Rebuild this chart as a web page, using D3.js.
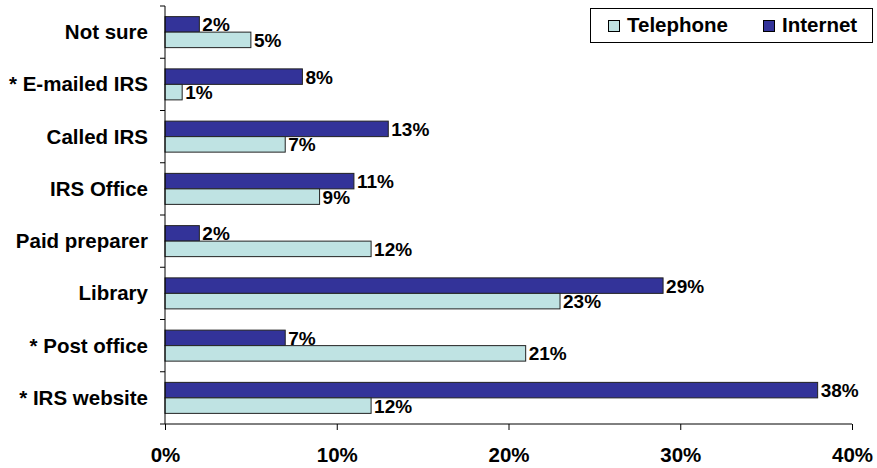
<!DOCTYPE html>
<html><head><meta charset="utf-8">
<script src="https://cdn.jsdelivr.net/npm/d3@7"></script>
<style>
body{margin:0;background:#fff;}
text{font-family:"Liberation Sans",Arial,sans-serif;font-weight:bold;}
</style></head>
<body><svg id="c" width="877" height="468"></svg>
<script>
const categories = ["Not sure","* E-mailed IRS","Called IRS","IRS Office","Paid preparer","Library","* Post office","* IRS website"];
const internet = [2,8,13,11,2,29,7,38];
const telephone = [5,1,7,9,12,23,21,12];
const xTicks = [0,10,20,30,40];
const seriesNames = ["Telephone","Internet"];
const colors = {Internet:"#333399", Telephone:"#BFE3E3"};

const svg = d3.select("#c");
const m = {l:165, r:852, t:6, b:424};
const x = d3.scaleLinear().domain([0,40]).range([m.l,m.r]);
const y = d3.scaleBand().domain(categories).range([m.t,m.b]);
const inner = d3.scaleBand().domain(["Internet","Telephone"]).range([0,31]);
const off = (y.bandwidth()-31)/2;

const g = svg.append("g");
categories.forEach((c,i)=>{
  [["Internet",internet[i]],["Telephone",telephone[i]]].forEach(([s,v])=>{
    const yy = y(c)+off+inner(s);
    g.append("rect").attr("x",x(0)).attr("y",yy).attr("width",x(v)-x(0)).attr("height",inner.bandwidth())
      .attr("fill",colors[s]).attr("stroke","#222").attr("stroke-width",1);
    g.append("text").attr("x",x(v)+3).attr("y",yy+inner.bandwidth()/2+7)
      .attr("font-size",19).attr("fill","#000").text(v+"%");
  });
});

// y axis
const ya = svg.append("g").attr("transform",`translate(${m.l},0)`);
ya.append("line").attr("x1",0).attr("x2",0).attr("y1",m.t).attr("y2",m.b).attr("stroke","#000");
d3.range(categories.length+1).forEach(i=>{
  const yy = m.t + i*y.step();
  ya.append("line").attr("x1",-5).attr("x2",0).attr("y1",yy).attr("y2",yy).attr("stroke","#000");
});
categories.forEach(c=>{
  ya.append("text").attr("x",-17).attr("y",y(c)+y.bandwidth()/2+7).attr("text-anchor","end")
    .attr("font-size",20.5).text(c);
});

// x axis
const xa = svg.append("g").attr("transform",`translate(0,${m.b})`)
  .call(d3.axisBottom(x).tickValues(xTicks).tickSize(6).tickFormat(d=>d+"%"));
xa.select(".domain").attr("stroke","#000").attr("d",`M${m.l},0H${m.r}`);
xa.selectAll(".tick line").attr("stroke","#000");
xa.selectAll(".tick text").attr("font-size",20.5).attr("y",38).attr("dy",0)
  .attr("font-family","Liberation Sans, Arial, sans-serif").attr("font-weight","bold").attr("fill","#000");

// legend
const lg = svg.append("g");
lg.append("rect").attr("x",590.5).attr("y",8.5).attr("width",282).attr("height",34)
  .attr("fill","#fff").attr("stroke","#000");
const lpos = [608,763];
seriesNames.forEach((s,i)=>{
  lg.append("rect").attr("x",lpos[i]+0.5).attr("y",20.5).attr("width",11).attr("height",11)
    .attr("fill",colors[s]).attr("stroke","#000");
  lg.append("text").attr("x",lpos[i]+19).attr("y",32).attr("font-size",20.5).text(s);
});
</script></body></html>
